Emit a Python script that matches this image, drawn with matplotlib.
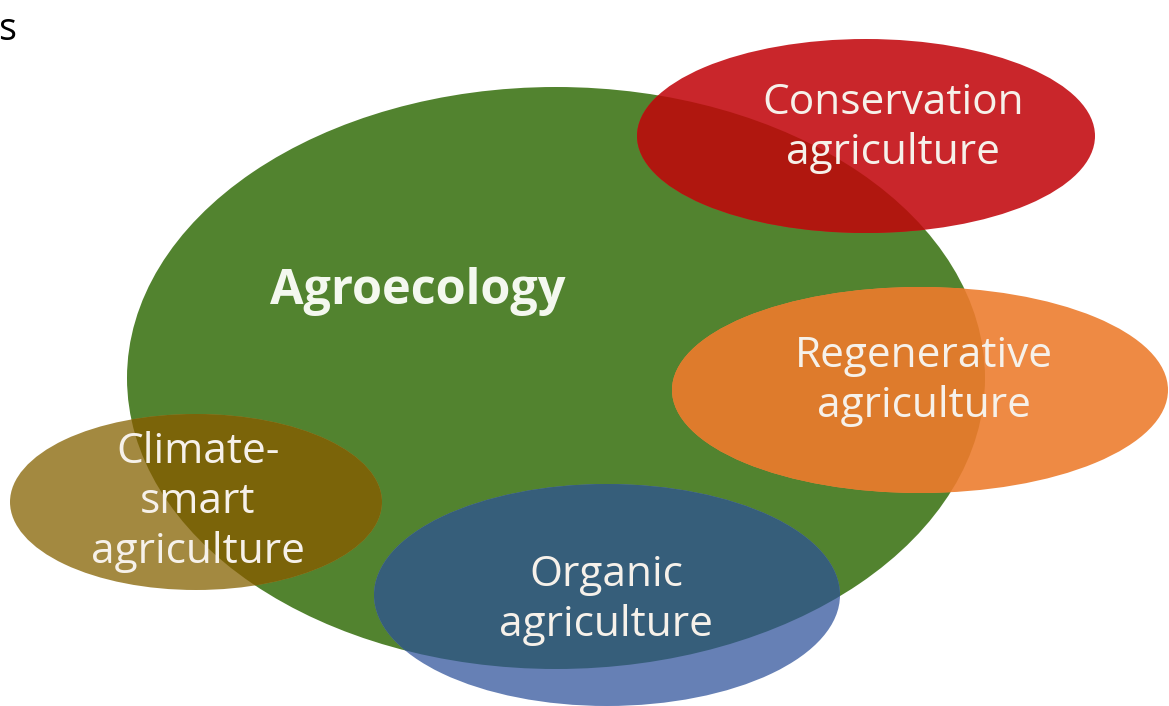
import matplotlib
matplotlib.use("Agg")
import matplotlib.pyplot as plt
from matplotlib.patches import Ellipse

W, H = 1169, 706

# Sets (name, label, center, size, colour, colour where overlapping the big set)
big_label = "Agroecology"
big_center = (556, 378)
big_size = (858, 582)
big_color = "#52832f"

labels = ["Conservation\nagriculture", "Regenerative\nagriculture",
          "Climate-\nsmart\nagriculture", "Organic\nagriculture"]
centers = [(866, 136), (920, 390), (196, 502), (607, 595)]
sizes = [(458, 194), (496, 206), (372, 176), (466, 222)]
colors = ["#c9262b", "#ee8a44", "#a38940", "#6680b5"]
overlap_colors = ["#b0170f", "#de7b2c", "#7b6409", "#365e7a"]
text_pos = [(893, 128), (924, 381), (198, 502), (606, 600)]

fig = plt.figure(figsize=(W / 100, H / 100), dpi=100)
ax = fig.add_axes([0, 0, 1, 1])
ax.set_xlim(0, W)
ax.set_ylim(H, 0)
ax.set_aspect("equal")
ax.axis("off")

font = ["Open Sans", "DejaVu Sans"]

big = Ellipse(big_center, big_size[0], big_size[1], facecolor=big_color,
              edgecolor="none", zorder=1)
ax.add_patch(big)

for i, (c, s, col, ocol) in enumerate(zip(centers, sizes, colors, overlap_colors)):
    e = Ellipse(c, s[0], s[1], facecolor=col, edgecolor="none", zorder=2 + i * 0.1)
    ax.add_patch(e)
    clip = Ellipse(big_center, big_size[0], big_size[1], transform=ax.transData,
                   facecolor="none", edgecolor="none")
    ax.add_patch(clip)
    o = Ellipse(c, s[0], s[1], facecolor=ocol, edgecolor="none", zorder=2.05 + i * 0.1)
    ax.add_patch(o)
    o.set_clip_path(clip)

ax.text(418, 292, big_label, ha="center", va="center", color="#f4f8ef",
        fontsize=35, fontweight="bold", family=font, zorder=5)

for lab, (x, y) in zip(labels, text_pos):
    ax.text(x, y, lab, ha="center", va="center", color="#f6f1ea",
            fontsize=30.5, family=font, linespacing=1.25, zorder=5)

ax.text(-2, 30, "s", ha="left", va="center", color="black", fontsize=27, family=font)

fig.savefig("out.png", dpi=100)
